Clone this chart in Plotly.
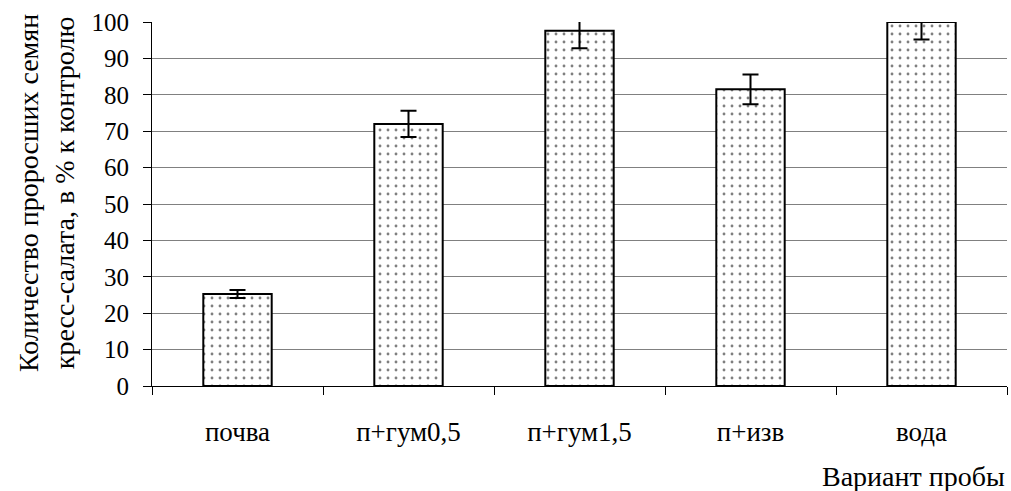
import plotly.graph_objects as go

categories = ["почва", "п+гум0,5", "п+гум1,5", "п+изв", "вода"]
values = [25.3, 72.0, 97.6, 81.5, 100.0]
errors = [1.1, 3.6, 4.8, 4.1, 4.8]
y_ticks = [0, 10, 20, 30, 40, 50, 60, 70, 80, 90, 100]

FONT = "Liberation Serif"

fig = go.Figure()
fig.add_trace(go.Bar(
    x=categories,
    y=values,
    width=0.4,
    marker=dict(
        color="white",
        line=dict(color="black", width=2),
        pattern=dict(shape=".", fgcolor="black", bgcolor="white", size=8, solidity=0.1),
    ),
    error_y=dict(type="data", array=errors, visible=True, color="black", thickness=2, width=8),
    showlegend=False,
))

fig.update_layout(
    width=1011, height=491,
    margin=dict(l=152, r=4, t=22, b=105),
    plot_bgcolor="white", paper_bgcolor="white",
    font=dict(family=FONT, size=26, color="black"),
    bargap=0.6,
)
fig.update_xaxes(
    range=[-0.5, 4.5],
    showline=True, linecolor="black", linewidth=1,
    ticks="outside", tickson="boundaries", ticklen=8, tickcolor="black",
    showgrid=False,
    ticklabelstandoff=22,
    tickfont=dict(family=FONT, size=27),
)
fig.update_yaxes(
    range=[0, 100],
    tickvals=y_ticks,
    showline=True, linecolor="black", linewidth=1,
    ticks="outside", ticklen=8, tickcolor="black",
    showgrid=True, gridcolor="#808080", gridwidth=1,
    zeroline=False,
    ticklabelstandoff=9,
    tickfont=dict(family=FONT, size=25),
)
fig.add_annotation(
    text="Количество проросших семян<br>кресс-салата, в % к контролю",
    xref="paper", yref="paper", x=(46 - 152) / 855, y=(386 - 193) / 364,
    xanchor="center", yanchor="middle", textangle=-90, showarrow=False,
    font=dict(family=FONT, size=28),
)
fig.add_annotation(
    text="Вариант пробы", xref="paper", yref="paper", x=1.0, y=-0.2,
    xanchor="right", yanchor="top", showarrow=False,
    font=dict(family=FONT, size=28),
)

fig.write_html("out.html")
